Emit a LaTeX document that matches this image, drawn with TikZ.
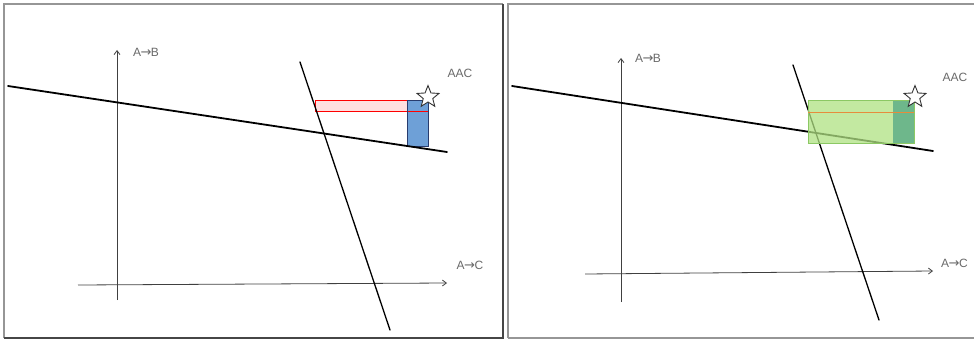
\documentclass[tikz,border=0pt]{standalone}
\usepackage{fontspec}
\setsansfont{Liberation Sans}
\newfontfamily\arrowfont{DejaVu Sans}
\newcommand{\toarrow}{{\arrowfont\fontsize{13}{14}\selectfont\kern-0.5pt→\kern-0.5pt}}
\definecolor{frame1}{RGB}{150, 150, 150}
\definecolor{frame2}{RGB}{70, 70, 70}
\definecolor{label1}{RGB}{105, 105, 105}
\definecolor{blue1}{RGB}{110, 160, 215}
\definecolor{blue2}{RGB}{40, 60, 110}
\definecolor{green1}{RGB}{175, 225, 130}
\definecolor{green2}{RGB}{140, 200, 100}
\definecolor{teal1}{RGB}{95, 175, 135}
\definecolor{orange1}{RGB}{230, 140, 60}
\usetikzlibrary{shapes.geometric, arrows.meta, positioning}
\tikzset{
  axis/.style={draw=black!75, line width=0.8pt, -{Straight Barb[length=4pt, width=6pt]}},
  budget/.style={draw=black, line width=1.8pt, line cap=round},
  steepline/.style={draw=black, line width=1.3pt, line cap=round},
  axlabel/.style={font=\sffamily\fontsize{12}{14}\selectfont, text=label1, inner sep=1pt},
  optstar/.style={star, star points=5, star point ratio=2.3, minimum size=23pt, inner sep=0pt, draw=black!80, line width=0.9pt, fill=white}
}
\begin{document}
\begin{tikzpicture}[x=1pt, y=-1pt]
  \useasboundingbox (0,0) rectangle (974,342);
  % panel frames
  \draw[frame1, line width=1.5pt] (4,338) -- (4,4) -- (503,4);
  \draw[frame2, line width=2pt] (503,4) -- (503,338) -- (4,338);
  \draw[frame1, line width=2pt] (508,338) -- (508,4) -- (980,4);
  \draw[frame1, line width=1.5pt] (508,338) -- (980,338);

  % left panel
  \coordinate (yL0) at (117,300);
  \coordinate (yL1) at (117,50);
  \coordinate (xL0) at (78,285);
  \coordinate (xL1) at (447,283);
  \draw[axis] (yL0) -- (yL1);
  \draw[axis] (xL0) -- (xL1);
  \node[axlabel] (abL) at (146,52) {A\toarrow B};
  \node[axlabel] (acL) at (470,265) {A\toarrow C};
  \node[axlabel] (aacL) at (460,73) {AAC};
  \fill[red!12] (315,101) rectangle (428,112);
  \fill[blue1] (407,101) rectangle (428,146);
  \draw[red, line width=1pt] (315,101) rectangle (428,112);
  \draw[blue2, line width=1pt] (407,101) rectangle (428,146);
  \coordinate (bL0) at (8,86);
  \coordinate (bL1) at (447,152);
  \coordinate (sL0) at (300,62);
  \coordinate (sL1) at (390,330);
  \draw[budget] (bL0) -- (bL1);
  \draw[steepline] (sL0) -- (sL1);
  \node[optstar] (starL) at (428,97) {};

  % right panel
  \coordinate (yR0) at (621,302);
  \coordinate (yR1) at (621,58);
  \coordinate (xR0) at (585,274);
  \coordinate (xR1) at (933,271);
  \draw[axis] (yR0) -- (yR1);
  \draw[axis] (xR0) -- (xR1);
  \node[axlabel] (abR) at (648,58) {A\toarrow B};
  \node[axlabel, anchor=west] (acR) at (940,263) {A\toarrow C};
  \node[axlabel] (aacR) at (955,77) {AAC};
  \coordinate (bR0) at (512,86);
  \coordinate (bR1) at (933,151);
  \coordinate (sR0) at (793,65);
  \coordinate (sR1) at (879,320);
  \draw[budget] (bR0) -- (bR1);
  \draw[steepline] (sR0) -- (sR1);
  \fill[green1, opacity=0.75] (808,100) rectangle (914,143);
  \fill[teal1, opacity=0.85] (893,100) rectangle (914,143);
  \draw[green2, line width=0.8pt] (808,100) rectangle (914,143);
  \draw[orange1, line width=0.9pt] (808,112) -- (914,112);
  \node[optstar] (starR) at (915,97) {};
\end{tikzpicture}
\end{document}
